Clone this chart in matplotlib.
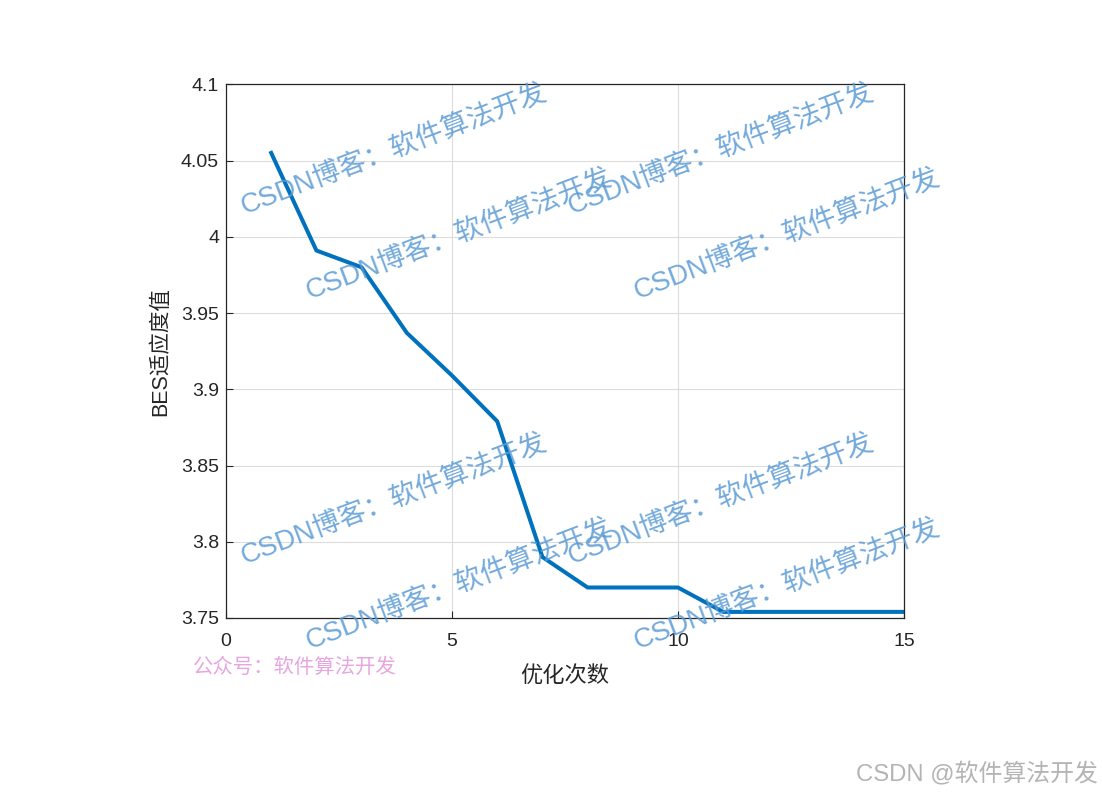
import matplotlib
matplotlib.use("Agg")
import matplotlib.pyplot as plt

plt.rcParams['font.family'] = ['Liberation Sans', 'Noto Sans CJK SC', 'DejaVu Sans']

iterations = [1, 2, 3, 4, 5, 6, 7, 8, 9, 10, 11, 12, 13, 14, 15]
fitness = [4.055, 3.991, 3.980, 3.937, 3.909, 3.879, 3.790, 3.770, 3.770, 3.770,
           3.754, 3.754, 3.754, 3.754, 3.754]
x_ticks = [0, 5, 10, 15]
y_ticks = [3.75, 3.8, 3.85, 3.9, 3.95, 4.0, 4.05, 4.1]
y_tick_labels = ['3.75', '3.8', '3.85', '3.9', '3.95', '4', '4.05', '4.1']
xlabel = '优化次数'
ylabel = 'BES适应度值'
watermark = 'CSDN博客：软件算法开发'

W, H = 1102, 793
fig = plt.figure(figsize=(W / 100, H / 100), dpi=100)
ax = fig.add_axes([226 / W, 1 - 618 / H, (904 - 226) / W, (618 - 84.3) / H])

ax.plot(iterations, fitness, color='#0072BD', linewidth=2.9, solid_joinstyle='round')
ax.set_xlim(0, 15)
ax.set_ylim(3.75, 4.1)
ax.set_xticks(x_ticks)
ax.set_yticks(y_ticks)
ax.set_yticklabels(y_tick_labels)
ax.tick_params(direction='in', labelsize=14, colors='#262626', length=5, width=0.8)
ax.tick_params(axis='x', pad=11)
ax.tick_params(axis='y', pad=5)
ax.grid(True, color='#dcdcdc', linewidth=0.8)
ax.set_axisbelow(True)
for s in ax.spines.values():
    s.set_color('#262626')
    s.set_linewidth(0.9)
ax.set_xlabel(xlabel, fontsize=16, color='#262626',
              family=['Noto Sans CJK SC'], labelpad=10)
ax.set_ylabel(ylabel, fontsize=15.5, color='#262626',
              family=['Liberation Sans', 'Noto Sans CJK SC'], labelpad=7)

# watermarks (pixel start positions)
starts = [(245, 215), (310, 300), (572, 215), (638, 300),
          (245, 565), (310, 650), (572, 565), (638, 650)]
for (px, py) in starts:
    fig.text(px / W, 1 - py / H, watermark, rotation=20.8, rotation_mode='anchor',
             ha='left', va='baseline', fontsize=19.8, color='#5B9BD5', alpha=0.85,
             family=['Liberation Sans', 'Noto Sans CJK SC'], fontweight='light')

fig.text(193 / W, 1 - 673 / H, '公众号：软件算法开发', fontsize=14.7, color='#E8A6E0',
         family=['Noto Sans CJK SC'], ha='left', va='baseline')
fig.text(1098 / W, 1 - 781 / H, 'CSDN @软件算法开发', fontsize=17.2, color='#B4B4B4',
         family=['Liberation Sans', 'Noto Sans CJK SC'], ha='right', va='baseline')

fig.savefig('out.png', dpi=100, facecolor='white')
